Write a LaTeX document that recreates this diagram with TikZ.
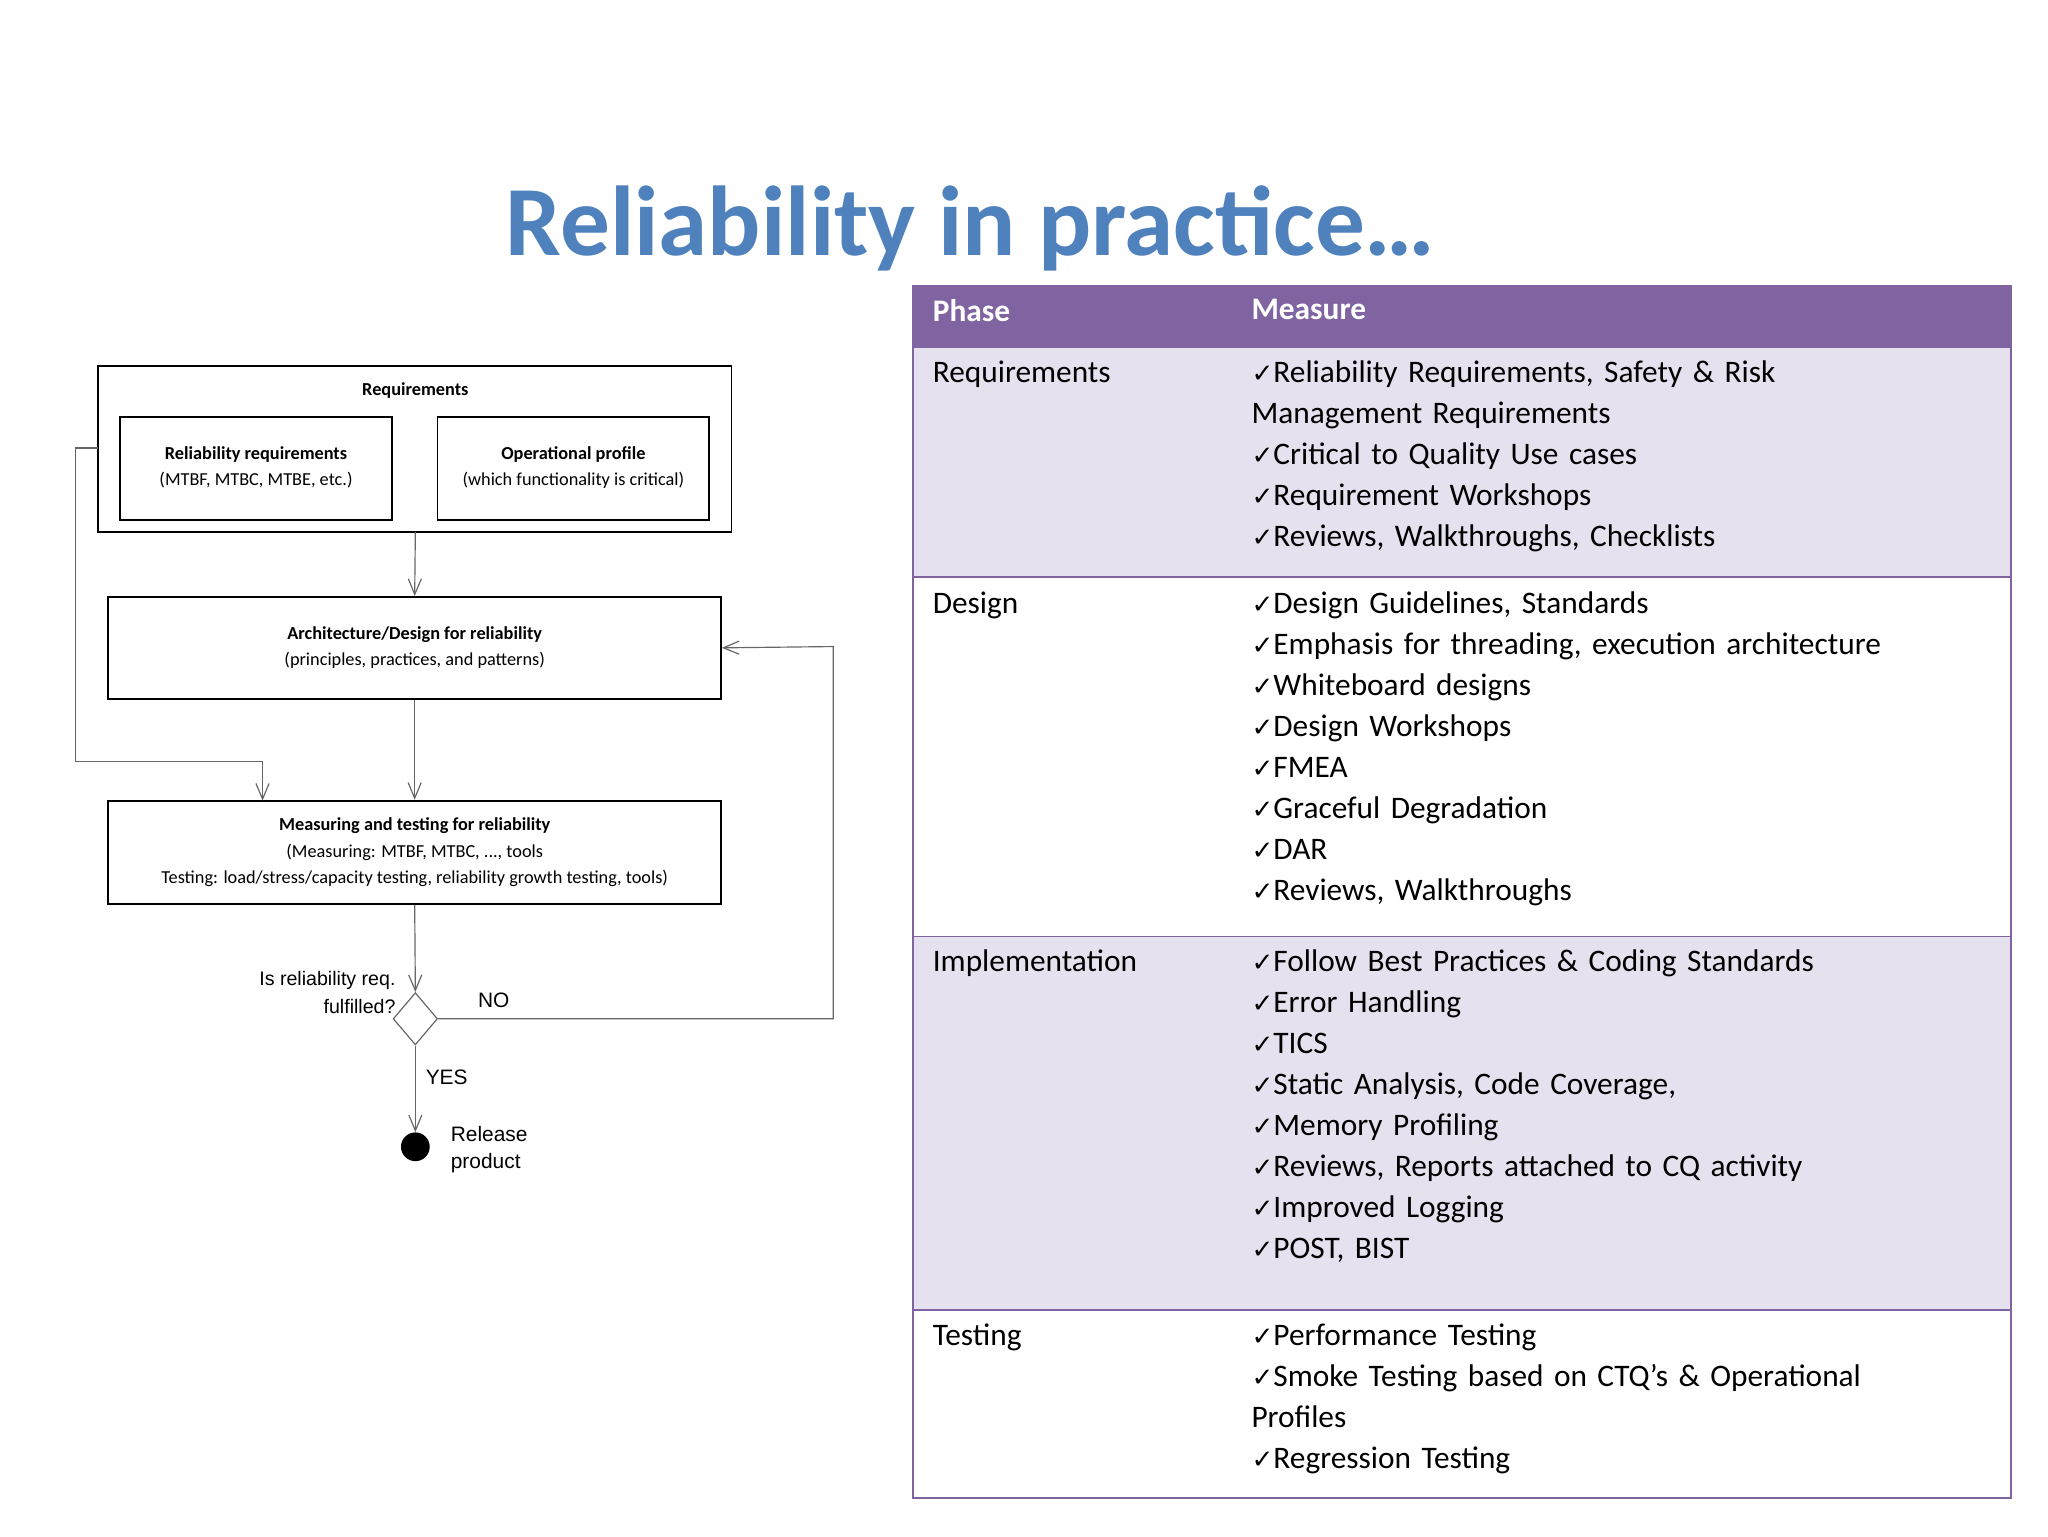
\documentclass[tikz,border=0pt]{standalone}
\usepackage{fontspec}
\setmainfont{Carlito}
\newfontfamily\arialf{Liberation Sans}
\newfontfamily\dejavu{DejaVu Sans}
\usetikzlibrary{arrows.meta,shapes.geometric}
\definecolor{purp}{HTML}{8064A2}
\definecolor{lav}{HTML}{E6E1EE}
\definecolor{ttl}{HTML}{4F81BD}
\newcommand\ck{{\dejavu\fontsize{20}{31.4}\selectfont ✓}}
\begin{document}
\begin{tikzpicture}[x=1pt,y=-1pt,
  box/.style={draw=black,line width=1.4pt,rectangle,inner sep=0},
  conn/.style={draw=gray!80!black,line width=0.9pt},
  arr/.style={conn,-{Straight Barb[length=12pt,width=10pt,line width=0.9pt]}},
  fl/.style={font=\fontsize{14}{20}\selectfont,align=center,inner sep=0},
  cell/.style={anchor=north west,inner sep=0,align=left,text width=570pt,font=\fontsize{24}{31.4}\selectfont},
  ph/.style={anchor=north west,inner sep=0,font=\fontsize{24}{31.4}\selectfont}]
\useasboundingbox[fill=white] (0,0) rectangle (1568,1176);
\node[font=\bfseries\fontsize{76}{80}\selectfont,text=ttl,inner sep=0] (title) at (743,175) {Reliability in practice…};
% table
\fill[purp] (699,219) rectangle (1540,266);
\fill[lav] (699,266) rectangle (1540,442);
\fill[lav] (699,717) rectangle (1540,1003);
\draw[purp,line width=1.5pt] (699,219) rectangle (1540,1147);
\foreach \y in {266,442,717,1003} \draw[purp,line width=1.5pt] (699,\y) -- (1540,\y);
\node[ph,text=white,font=\bfseries\fontsize{24}{31.4}\selectfont] (hp) at (714,229) {Phase};
\node[ph,text=white,font=\bfseries\fontsize{24}{31.4}\selectfont] (hm) at (958,229) {Measure};
\node[ph] (p1) at (714,276) {Requirements};
\node[ph] (p2) at (714,453) {Design};
\node[ph] (p3) at (714,727) {Implementation};
\node[ph] (p4) at (714,1013) {Testing};
\node[cell] (m1) at (958,276) {\ck Reliability Requirements, Safety \& Risk\\Management Requirements\\\ck Critical to Quality Use cases\\\ck Requirement Workshops\\\ck Reviews, Walkthroughs, Checklists};
\node[cell] (m2) at (958,453) {\ck Design Guidelines, Standards\\\ck Emphasis for threading, execution architecture\\\ck Whiteboard designs\\\ck Design Workshops\\\ck FMEA\\\ck Graceful Degradation\\\ck DAR\\\ck Reviews, Walkthroughs};
\node[cell] (m3) at (958,727) {\ck Follow Best Practices \& Coding Standards\\\ck Error Handling\\\ck TICS\\\ck Static Analysis, Code Coverage,\\\ck Memory Profiling\\\ck Reviews, Reports attached to CQ activity\\\ck Improved Logging\\\ck POST, BIST};
\node[cell] (m4) at (958,1013) {\ck Performance Testing\\\ck Smoke Testing based on CTQ’s \& Operational\\Profiles\\\ck Regression Testing};
% flowchart
\draw[box] (75,280) rectangle (560,407);
\coordinate (reqb) at (318,407);
\coordinate (reql) at (75,343);
\node[fl,font=\bfseries\fontsize{14}{20}\selectfont] (req) at (318,299) {Requirements};
\draw[box] (92,319) rectangle (300,398);
\node[fl] (rr) at (196,358) {\textbf{Reliability requirements}\\(MTBF, MTBC, MTBE, etc.)};
\draw[box] (335,319) rectangle (543,398);
\node[fl] (op) at (439,358) {\textbf{Operational profile}\\(which functionality is critical)};
\node[box,minimum width=469pt,minimum height=78pt,fl] (arch) at (317.5,496) {\textbf{Architecture/Design for reliability}\\(principles, practices, and patterns)};
\node[box,minimum width=469pt,minimum height=79pt,fl] (meas) at (317.5,652.5) {\textbf{Measuring and testing for reliability}\\(Measuring: MTBF, MTBC, ..., tools\\Testing: load/stress/capacity testing, reliability growth testing, tools)};
\node[diamond,draw=gray!80!black,line width=0.9pt,minimum width=34pt,minimum height=40pt,inner sep=0] (dec) at (318,780) {};
\node[circle,fill=black,minimum size=22pt,inner sep=0] (rel) at (318,878) {};
\draw[arr] (reqb) -- (arch.north);
\draw[arr] (arch.south) -- (meas.north);
\draw[arr] (reql) -- (58,343) -- (58,583) -- (201,583) -- (201,613);
\draw[arr] (meas.south) -- (dec.north);
\draw[arr] (dec.east) -- (638,780) -- (638,495) -- (arch.east);
\draw[arr] (dec.south) -- (rel.north);
\node[fl,font=\arialf\fontsize{15}{21}\selectfont,align=right,anchor=east] (q) at (303,760) {Is reliability req.\\fulfilled?};
\node[fl,font=\arialf\fontsize{16}{21}\selectfont] (no) at (378,766) {NO};
\node[fl,font=\arialf\fontsize{16}{21}\selectfont] (yes) at (342,825) {YES};
\node[fl,font=\arialf\fontsize{16}{21}\selectfont,align=left,anchor=west] (rp) at (345,880) {Release\\product};
\end{tikzpicture}
\end{document}
